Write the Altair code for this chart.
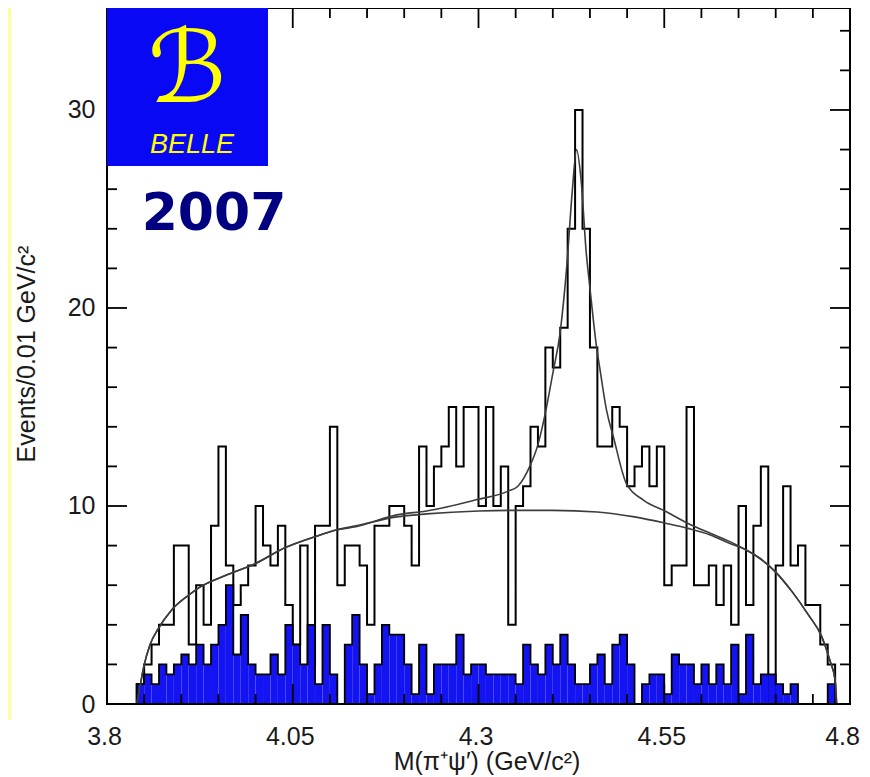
import altair as alt
import pandas as pd

# ---------------- data ----------------
BIN_START = 3.84
BIN_WIDTH = 0.01

EVENTS = [1, 2, 3, 4, 4, 8, 8, 3, 6, 4,
          9, 13, 7, 5, 6, 7, 10, 8, 7, 9,
          5, 3, 8, 2, 9, 9, 14, 6, 8, 8,
          7, 4, 9, 9, 10, 10, 9, 7, 13, 10,
          12, 13, 15, 12, 15, 15, 10, 15, 10, 12,
          4, 10, 11, 14, 13, 18, 17, 19, 24, 30,
          24, 18, 13, 13, 15, 14, 11, 12, 13, 11,
          13, 6, 7, 7, 15, 6, 6, 7, 5, 7,
          4, 10, 5, 9, 12, 0, 7, 11, 7, 8,
          5, 5, 3, 2]

SIDEBAND = [1.0, 1.5, 1.0, 2.0, 1.5, 2.0, 2.5, 2.0, 3.0, 2.0,
            3.0, 4.0, 6.0, 2.5, 4.5, 2.0, 1.5, 1.5, 2.5, 1.5,
            4.0, 3.0, 2.0, 4.0, 1.0, 4.0, 1.5, 0.0, 3.0, 4.5,
            2.0, 0.5, 2.0, 4.0, 3.5, 3.5, 2.0, 0.5, 3.0, 0.5,
            2.0, 2.0, 2.0, 3.5, 1.5, 2.0, 2.0, 1.5, 1.5, 1.5,
            1.5, 1.0, 3.0, 2.0, 1.5, 3.0, 2.0, 3.5, 2.0, 1.0,
            1.0, 2.0, 2.5, 1.0, 3.0, 3.5, 2.0, 0.0, 1.0, 1.5,
            1.5, 0.5, 2.5, 2.0, 2.0, 1.0, 2.0, 1.0, 2.0, 1.0,
            3.0, 0.5, 3.5, 1.0, 1.5, 1.5, 1.0, 0.5, 1.0, 0.0,
            0.0, 0.0, 0.0, 1.0]

FIT_BKG_M = [3.840, 3.845, 3.849, 3.858, 3.869, 3.887, 3.910, 3.925, 3.960,
             4.000, 4.040, 4.080, 4.110, 4.135, 4.190, 4.230, 4.300, 4.350,
             4.400, 4.460, 4.510, 4.553, 4.582, 4.612, 4.6385, 4.659, 4.677,
             4.699, 4.7215, 4.744, 4.762, 4.773, 4.780, 4.782]
FIT_BKG_N = [0.0, 1.0, 1.8, 3.0, 3.8, 4.75, 5.5, 5.9, 6.5,
             7.1, 7.9, 8.45, 8.8, 9.0, 9.45, 9.6, 9.75, 9.78,
             9.78, 9.7, 9.45, 9.12, 8.87, 8.54, 8.1, 7.8, 7.4,
             6.7, 5.7, 4.5, 3.4, 2.2, 1.2, 0.0]

FIT_SUM_M = [3.840, 3.845, 3.849, 3.858, 3.869, 3.887, 3.910, 3.925, 3.960,
             4.000, 4.040, 4.080, 4.110, 4.135, 4.190, 4.230, 4.2953, 4.340,
             4.353, 4.369, 4.380, 4.390, 4.400, 4.410, 4.419, 4.426, 4.432,
             4.438, 4.445, 4.450, 4.459, 4.4635, 4.4725, 4.4815, 4.4994, 4.522,
             4.553, 4.582, 4.612, 4.6385, 4.659, 4.677, 4.699, 4.7215, 4.744,
             4.762, 4.773, 4.780, 4.782]
FIT_SUM_N = [0.0, 1.0, 1.8, 3.0, 3.8, 4.75, 5.5, 5.9, 6.5,
             7.1, 7.9, 8.45, 8.8, 8.95, 9.55, 9.75, 10.3, 10.75,
             11.0, 12.0, 13.1, 14.7, 16.7, 18.8, 22.2, 25.8, 28.0,
             26.5, 22.8, 21.0, 18.0, 16.9, 14.8, 13.5, 11.1, 10.3,
             9.71, 9.12, 8.62, 8.2, 7.8, 7.4, 6.7, 5.7, 4.5,
             3.4, 2.2, 1.2, 0.0]

X_MAJOR = [3.8, 4.05, 4.3, 4.55, 4.8]
X_MINOR = [3.85, 3.9, 3.95, 4.0, 4.1, 4.15, 4.2, 4.25, 4.35, 4.4, 4.45, 4.5,
           4.6, 4.65, 4.7, 4.75]
Y_MAJOR = [0, 10, 20, 30]
Y_MINOR = [2, 4, 6, 8, 12, 14, 16, 18, 22, 24, 26, 28, 32, 34]

X_TITLE = "M(π⁺ψ′) (GeV/c²)"
Y_TITLE = "Events/0.01 GeV/c²"
YEAR = "2007"
LOGO_WORD = "BELLE"
LOGO_GLYPH = "ℬ"

# ---------------- layout ----------------
W, H = 743, 696
FONT = "Liberation Sans"
xs = alt.Scale(domain=[3.8, 4.8], nice=False, zero=False)
ys = alt.Scale(domain=[0, 35.15], nice=False, zero=False)

x_axis = alt.Axis(values=X_MAJOR, labelExpr="format(datum.value, '.2~f')",
                  ticks=False, domain=False, grid=False, labelFontSize=25,
                  labelFont=FONT, labelColor="#1a1a1a", labelPadding=20,
                  labelFlush=False, labelOverlap=False, labelBound=False,
                  labelOffset={"condition": {"test": "datum.value > 4.7", "value": -8},
                               "value": -3},
                  title=None)
y_axis = alt.Axis(values=Y_MAJOR, ticks=False, domain=False, grid=False,
                  labelFontSize=25, labelFont=FONT, labelColor="#1a1a1a",
                  labelPadding=12, title=None)


def X(field):
    return alt.X(field, scale=xs, axis=x_axis)


def Y(field):
    return alt.Y(field, scale=ys, axis=y_axis)


def step_frame(values):
    rows = [{"m": BIN_START, "n": 0.0, "o": 0}]
    for i, v in enumerate(values):
        rows.append({"m": BIN_START + i * BIN_WIDTH, "n": float(v), "o": i + 1})
    rows.append({"m": BIN_START + len(values) * BIN_WIDTH, "n": 0.0,
                 "o": len(values) + 1})
    return pd.DataFrame(rows)


total_df = step_frame(EVENTS)
side_df = step_frame(SIDEBAND)
bkg_df = pd.DataFrame({"m": FIT_BKG_M, "n": FIT_BKG_N})
sum_df = pd.DataFrame({"m": FIT_SUM_M, "n": FIT_SUM_N})
one = pd.DataFrame({"k": [0]})

hist = alt.Chart(total_df).mark_line(
    interpolate="step-after", color="black", strokeWidth=2
).encode(x=X("m:Q"), y=Y("n:Q"), order="o:Q")

side_fill = alt.Chart(side_df).mark_area(
    interpolate="step-after", color="#1414F2", opacity=1
).encode(x=X("m:Q"), y=Y("n:Q"), order="o:Q")

side_line = alt.Chart(side_df).mark_line(
    interpolate="step-after", color="black", strokeWidth=1.8
).encode(x=X("m:Q"), y=Y("n:Q"), order="o:Q")

bkg_line = alt.Chart(bkg_df).mark_line(
    interpolate="monotone", color="#3c3c3c", strokeWidth=1.6
).encode(x=X("m:Q"), y=Y("n:Q"))

sum_line = alt.Chart(sum_df).mark_line(
    interpolate="monotone", color="#3c3c3c", strokeWidth=1.6
).encode(x=X("m:Q"), y=Y("n:Q"))


def yticks(vals, length):
    d = pd.DataFrame({"n": vals})
    left = alt.Chart(d).mark_rule(color="black", strokeWidth=1.8).encode(
        y=Y("n:Q"), x=alt.value(0), x2=alt.value(length))
    right = alt.Chart(d).mark_rule(color="black", strokeWidth=1.8).encode(
        y=Y("n:Q"), x=alt.value(W), x2=alt.value(W - length))
    return [left, right]


def xticks(vals, length):
    d = pd.DataFrame({"m": vals})
    bottom = alt.Chart(d).mark_rule(color="black", strokeWidth=1.8).encode(
        x=X("m:Q"), y=alt.value(H), y2=alt.value(H - length))
    top = alt.Chart(d).mark_rule(color="black", strokeWidth=1.8).encode(
        x=X("m:Q"), y=alt.value(0), y2=alt.value(length))
    return [bottom, top]


frame = alt.Chart(one).mark_rect(fill=None, stroke="black", strokeWidth=2).encode(
    x=alt.value(0), x2=alt.value(W), y=alt.value(0), y2=alt.value(H))

strip = alt.Chart(one).mark_rect(color="#FFFF99").encode(
    x=alt.value(-99), x2=alt.value(-96), y=alt.value(0), y2=alt.value(712))

logo_box = alt.Chart(one).mark_rect(color="#0808F4").encode(
    x=alt.value(0), x2=alt.value(161), y=alt.value(0), y2=alt.value(158))

logo_glyph = alt.Chart(pd.DataFrame({"t": [LOGO_GLYPH]})).mark_text(
    font="DejaVu Sans", fontSize=100, color="#FFFF00", align="center",
    baseline="middle").encode(text="t:N", x=alt.value(80), y=alt.value(64))

logo_word = alt.Chart(pd.DataFrame({"t": [LOGO_WORD]})).mark_text(
    font=FONT, fontStyle="italic", fontSize=27, color="#FFFF00", align="center",
    baseline="alphabetic").encode(text="t:N", x=alt.value(85), y=alt.value(145))

year = alt.Chart(pd.DataFrame({"t": [YEAR]})).mark_text(
    font="DejaVu Sans", fontWeight="bold", fontSize=52, color="#000080",
    align="center", baseline="alphabetic").encode(
    text="t:N", x=alt.value(107), y=alt.value(222))

xtitle = alt.Chart(pd.DataFrame({"t": [X_TITLE]})).mark_text(
    font=FONT, fontSize=25, color="#1a1a1a", align="center",
    baseline="alphabetic").encode(text="t:N", x=alt.value(380), y=alt.value(762))

ytitle = alt.Chart(pd.DataFrame({"t": [Y_TITLE]})).mark_text(
    font=FONT, fontSize=25, color="#1a1a1a", align="center", angle=270,
    baseline="alphabetic").encode(text="t:N", x=alt.value(-72), y=alt.value(346))

layers = [strip, hist, side_fill, side_line, bkg_line, sum_line]
layers += yticks(Y_MINOR, 10) + yticks(Y_MAJOR, 20)
layers += xticks(X_MINOR, 10) + xticks(X_MAJOR, 20)
layers += [frame, logo_box, logo_glyph, logo_word, year, xtitle, ytitle]

chart = alt.layer(*layers).properties(
    width=W, height=H,
    autosize=alt.AutoSizeParams(type="none"),
    padding={"left": 99, "top": 0, "right": 12, "bottom": 73},
    background="white",
).configure_view(stroke=None)

chart.save("out.html", embed_options={"renderer": "svg", "actions": False})
